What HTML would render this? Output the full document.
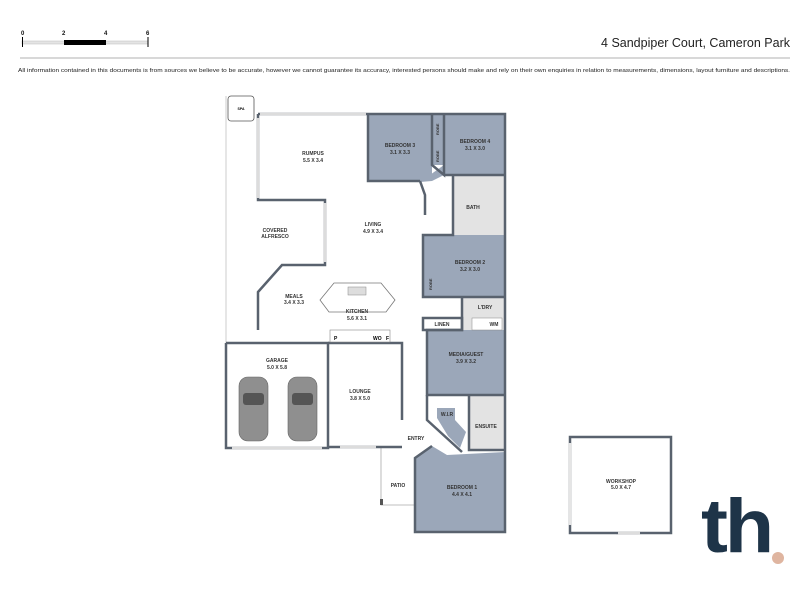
<!DOCTYPE html>
<html><head><meta charset="utf-8"><style>
body{margin:0;background:#fff;}
svg{display:block;font-family:"Liberation Sans",sans-serif;}
.l{font-size:5px;font-weight:bold;fill:#333;text-anchor:middle;}
</style></head><body>
<svg width="800" height="600" viewBox="0 0 800 600">
<g font-size="6" font-weight="bold" fill="#111">
<text x="21" y="35">0</text><text x="62" y="35">2</text><text x="104" y="35">4</text><text x="146" y="35">6</text>
</g>
<rect x="22" y="41" width="126" height="3" fill="#e4e4e4" stroke="#bbb" stroke-width="0.5"/>
<rect x="64" y="40" width="42" height="5" fill="#000"/>
<line x1="22.5" y1="37" x2="22.5" y2="47" stroke="#000" stroke-width="1"/>
<line x1="148" y1="37" x2="148" y2="47" stroke="#000" stroke-width="1"/>
<text x="790" y="47" font-size="12.5" text-anchor="end" fill="#222">4 Sandpiper Court, Cameron Park</text>
<line x1="20" y1="58" x2="790" y2="58" stroke="#999" stroke-width="0.8"/>
<text x="18" y="72" font-size="5.2" fill="#222" textLength="772" lengthAdjust="spacingAndGlyphs">All information contained in this documents is  from sources we believe to be accurate, however we cannot guarantee its accuracy, interested persons should make and rely on their own enquiries  in relation to measurements, dimensions, layout furniture and descriptions.</text>

<rect x="228" y="96" width="26" height="25" rx="3" fill="#fff" stroke="#555" stroke-width="0.8"/>
<text x="241" y="110" font-size="3.5" text-anchor="middle" font-weight="bold">SPA</text>
<polyline points="226,96 226,343" fill="none" stroke="#ccc" stroke-width="1"/>
<polyline points="381,447 381,505 415,505" fill="none" stroke="#aaa" stroke-width="0.8"/>
<rect x="380" y="499" width="3" height="6" fill="#555"/>

<g fill="#9ba7b9">
<rect x="368" y="114" width="64" height="67"/>
<rect x="444" y="114" width="61" height="61"/>
<polygon points="444,175 432,181 420,182 444,165"/>
<rect x="423" y="235" width="82" height="62"/>
<rect x="427" y="330" width="78" height="65"/>
<polygon points="437,408 455,408 455,420 466,432 460,448 448,436 437,418"/>
<polygon points="415,458 432,446 447,455 505,452 505,532 415,532"/>
</g>
<g fill="#e3e3e3">
<rect x="453" y="175" width="52" height="60"/>
<rect x="462" y="297" width="43" height="33"/>
<rect x="469" y="395" width="36" height="55"/>
</g>
<rect x="432" y="114" width="12" height="51" fill="#9ba7b9"/>

<g fill="none" stroke="#59626e" stroke-width="2.5" stroke-linejoin="miter">
<polyline points="258,114 505,114 505,532 415,532 415,458 432,446"/>
<polyline points="258,114 258,200 325,200 325,265 282,265 258,292 258,330"/>
<polyline points="368,114 368,181 420,181"/>
<polyline points="432,114 432,165 444,175 444,114"/>
<polyline points="453,175 453,235 423,235 423,297 505,297"/>
<polyline points="444,175 505,175"/>
<polyline points="462,297 462,330 427,330 427,395 505,395"/>
<rect x="423" y="318" width="39" height="12"/>
<polyline points="427,395 427,420 462,452"/>
<polyline points="469,395 469,450 505,450"/>
<polyline points="226,343 226,448 328,448 328,343 226,343"/>
<polyline points="328,343 402,343 402,420"/>
<polyline points="328,447 402,447"/>
<polyline points="420,181 425,195 425,215"/>
</g>
<g stroke="#dcdcdc" stroke-width="2.5">
<line x1="260" y1="114" x2="366" y2="114"/>
<line x1="258" y1="118" x2="258" y2="198"/>
<line x1="325" y1="203" x2="325" y2="262"/>
<line x1="232" y1="448" x2="322" y2="448"/>
<line x1="340" y1="447" x2="376" y2="447"/>
<line x1="572" y1="436" x2="572" y2="530"/>
<line x1="616" y1="533" x2="638" y2="533"/>
</g>
<polygon points="320,300 334,283 381,283 395,300 386,312 329,312" fill="#fff" stroke="#777" stroke-width="0.8"/>
<rect x="348" y="287" width="18" height="8" fill="#ddd" stroke="#888" stroke-width="0.5"/>
<rect x="330" y="330" width="60" height="12" fill="#fff" stroke="#888" stroke-width="0.6"/>
<text x="334" y="340" font-size="5" font-weight="bold">P</text>
<text x="373" y="340" font-size="5" font-weight="bold">WO</text>
<text x="386" y="340" font-size="5" font-weight="bold">F</text>
<rect x="472" y="318" width="30" height="12" fill="#fff" stroke="#888" stroke-width="0.5"/>

<g fill="#8f8f8f" stroke="#666" stroke-width="0.6">
<rect x="239" y="377" width="29" height="64" rx="9"/>
<rect x="288" y="377" width="29" height="64" rx="9"/>
</g>
<g fill="#555"><rect x="243" y="393" width="21" height="12" rx="3"/><rect x="292" y="393" width="21" height="12" rx="3"/></g>

<rect x="570" y="437" width="101" height="96" fill="#fff" stroke="#59626e" stroke-width="2.5"/>
<line x1="570" y1="443" x2="570" y2="525" stroke="#e5e5e5" stroke-width="2.5"/>
<line x1="618" y1="533" x2="640" y2="533" stroke="#ddd" stroke-width="2.5"/>

<g class="l">
<text class="l" x="313" y="155">RUMPUS</text><text class="l" x="313" y="162">5.5 X 3.4</text>
<text class="l" x="400" y="147">BEDROOM 3</text><text class="l" x="400" y="154">3.1 X 3.3</text>
<text class="l" x="475" y="143">BEDROOM 4</text><text class="l" x="475" y="150">3.1 X 3.0</text>
<text class="l" x="473" y="209">BATH</text>
<text class="l" x="275" y="232">COVERED</text><text class="l" x="275" y="238">ALFRESCO</text>
<text class="l" x="373" y="226">LIVING</text><text class="l" x="373" y="233">4.9 X 3.4</text>
<text class="l" x="470" y="264">BEDROOM 2</text><text class="l" x="470" y="271">3.2 X 3.0</text>
<text class="l" x="294" y="298">MEALS</text><text class="l" x="294" y="304">3.4 X 3.3</text>
<text class="l" x="357" y="313">KITCHEN</text><text class="l" x="357" y="320">5.6 X 3.1</text>
<text class="l" x="485" y="309">L'DRY</text>
<text class="l" x="442" y="326">LINEN</text>
<text class="l" x="494" y="326">WM</text>
<text class="l" x="466" y="356">MEDIA/GUEST</text><text class="l" x="466" y="363">3.9 X 3.2</text>
<text class="l" x="277" y="362">GARAGE</text><text class="l" x="277" y="369">5.0 X 5.8</text>
<text class="l" x="360" y="393">LOUNGE</text><text class="l" x="360" y="400">3.8 X 5.0</text>
<text class="l" x="447" y="416">W.I.R</text>
<text class="l" x="486" y="428">ENSUITE</text>
<text class="l" x="416" y="440">ENTRY</text>
<text class="l" x="398" y="487">PATIO</text>
<text class="l" x="462" y="489">BEDROOM 1</text><text class="l" x="462" y="496">4.4 X 4.1</text>
<text class="l" x="621" y="483">WORKSHOP</text><text class="l" x="621" y="489">5.0 X 4.7</text>
</g>
<g font-size="4" font-weight="bold" fill="#333">
<text transform="translate(439,135) rotate(-90)">ROBE</text>
<text transform="translate(439,162) rotate(-90)">ROBE</text>
<text transform="translate(432,290) rotate(-90)">ROBE</text>
</g>

<text x="701" y="552" font-size="76" font-weight="bold" fill="#1e3448" letter-spacing="-3" textLength="70" lengthAdjust="spacingAndGlyphs">th</text>
<circle cx="778" cy="558" r="6" fill="#dfb5a0"/>
</svg>
</body></html>
